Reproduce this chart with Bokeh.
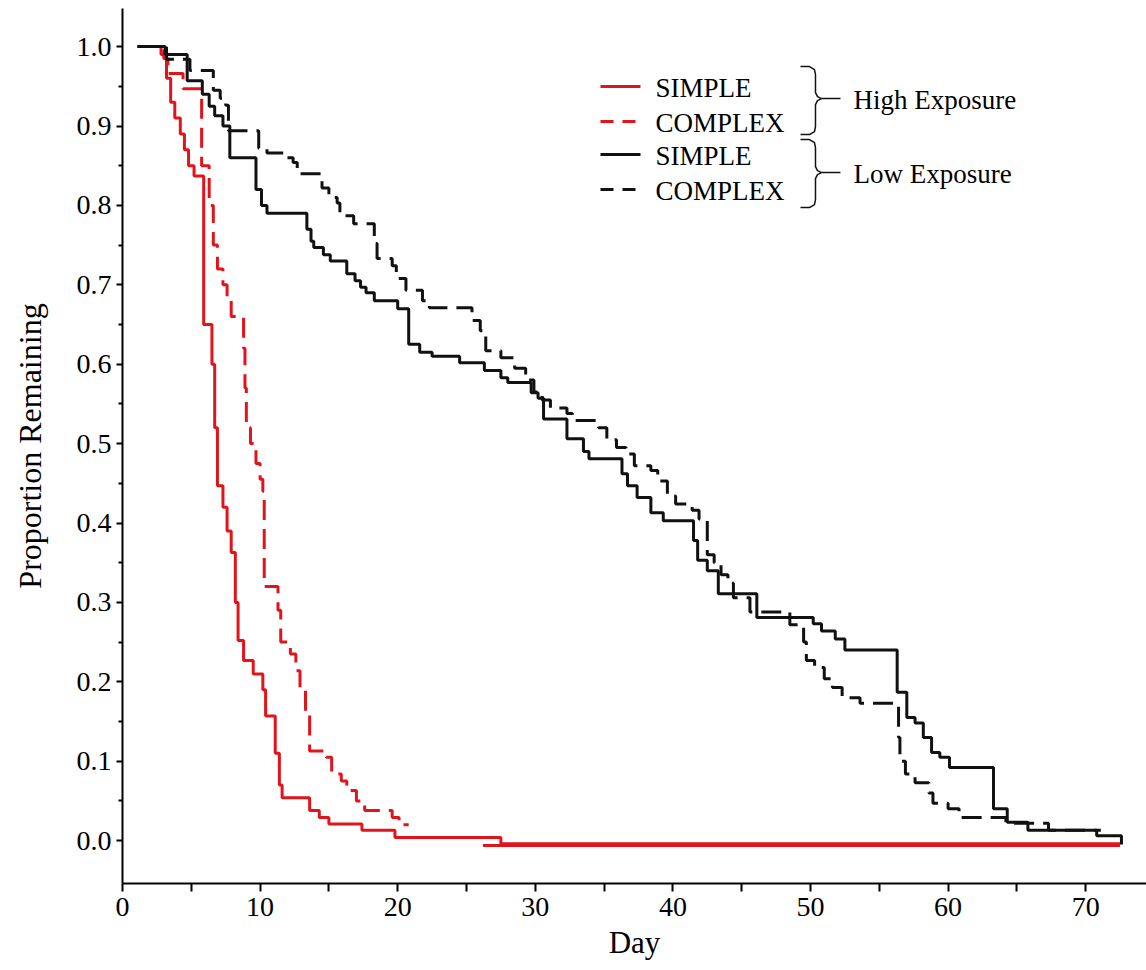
from bokeh.plotting import figure
from bokeh.models import Range1d, FixedTicker, NumeralTickFormatter
from bokeh.core.properties import value
from bokeh.embed import file_html
from bokeh.resources import INLINE

# ---------------- data ----------------
high_simple_day = [1.1, 2.8, 3.2, 3.5, 3.8, 4.2, 4.5, 4.8, 5.2, 5.9, 6.5, 6.7, 6.9, 7.3, 7.6,
                   7.9, 8.2, 8.4, 8.8, 9.5, 10.2, 10.4, 11.1, 11.4, 11.6, 13.6, 14.3, 15.0,
                   17.4, 19.8, 27.5, 72.5]
high_simple_val = [1.0, 0.99, 0.96, 0.93, 0.91, 0.89, 0.87, 0.85, 0.837, 0.65, 0.60, 0.52, 0.447,
                   0.42, 0.39, 0.363, 0.30, 0.252, 0.227, 0.21, 0.19, 0.157, 0.11, 0.07, 0.054,
                   0.038, 0.029, 0.021, 0.013, 0.004, -0.004, -0.004]

high_complex_day = [1.1, 3.0, 3.3, 4.4, 5.75, 6.3, 6.6, 6.9, 7.3, 7.6, 7.9, 8.8, 8.9, 9.0, 9.3,
                    9.7, 10.0, 10.2, 10.3, 11.3, 11.5, 12.2, 12.6, 12.9, 13.3, 13.6, 14.8, 15.2,
                    15.9, 16.3, 17.0, 17.6, 19.6, 20.1, 20.8]
high_complex_val = [1.0, 0.985, 0.966, 0.947, 0.85, 0.80, 0.75, 0.72, 0.70, 0.68, 0.66, 0.62,
                    0.57, 0.52, 0.50, 0.475, 0.455, 0.44, 0.32, 0.29, 0.25, 0.235, 0.214, 0.19,
                    0.16, 0.113, 0.105, 0.084, 0.075, 0.063, 0.05, 0.038, 0.029, 0.02, 0.02]
high_complex_tail_day = [26.2, 72.5]
high_complex_tail_val = [-0.006, -0.006]

low_simple_day = [1.1, 3.1, 4.7, 5.8, 6.3, 6.7, 7.3, 7.8, 9.7, 10.1, 10.5, 13.4, 13.7, 13.9,
                  14.6, 15.1, 16.3, 16.9, 17.3, 17.7, 18.3, 20.0, 20.8, 21.6, 22.5, 24.5, 26.3,
                  27.5, 28.0, 29.7, 30.2, 30.6, 32.3, 33.5, 33.9, 36.3, 36.7, 37.4, 38.4, 39.3,
                  41.5, 41.8, 42.5, 43.3, 46.1, 50.2, 50.8, 51.8, 52.5, 56.3, 57.0, 57.6, 58.2,
                  58.8, 59.4, 60.1, 63.3, 64.3, 65.8, 70.8, 72.6]
low_simple_val = [1.0, 0.99, 0.957, 0.94, 0.925, 0.913, 0.90, 0.86, 0.82, 0.80, 0.79, 0.77,
                  0.755, 0.747, 0.738, 0.73, 0.714, 0.705, 0.697, 0.69, 0.68, 0.67, 0.625, 0.615,
                  0.61, 0.602, 0.592, 0.583, 0.577, 0.564, 0.557, 0.531, 0.506, 0.49, 0.481,
                  0.462, 0.447, 0.432, 0.413, 0.403, 0.378, 0.353, 0.34, 0.311, 0.281, 0.273,
                  0.264, 0.254, 0.24, 0.187, 0.155, 0.148, 0.13, 0.111, 0.105, 0.092, 0.04,
                  0.023, 0.013, 0.006, -0.005]

low_complex_day = [1.1, 3.2, 4.9, 6.6, 7.1, 7.5, 7.7, 9.9, 10.5, 11.9, 12.4, 12.7, 14.5, 15.0,
                   15.6, 15.8, 16.8, 18.3, 18.5, 19.6, 19.9, 20.6, 21.8, 22.3, 25.4, 26.0, 26.4,
                   27.5, 28.5, 29.3, 29.9, 30.5, 31.1, 32.3, 32.7, 34.6, 35.2, 35.9, 36.6, 37.2,
                   38.4, 38.9, 39.6, 40.2, 41.4, 41.9, 42.5, 43.0, 43.5, 44.0, 44.4, 45.6, 48.5,
                   49.5, 49.7, 50.3, 51.0, 51.6, 52.3, 53.6, 56.4, 56.5, 56.9, 57.6, 58.6, 58.9,
                   60.0, 60.8, 64.2, 67.3, 71.1]
low_complex_val = [1.0, 0.984, 0.97, 0.945, 0.935, 0.926, 0.894, 0.872, 0.866, 0.86, 0.854,
                   0.84, 0.822, 0.81, 0.803, 0.787, 0.777, 0.752, 0.733, 0.724, 0.708, 0.693,
                   0.68, 0.671, 0.655, 0.642, 0.617, 0.608, 0.595, 0.58, 0.565, 0.555, 0.545,
                   0.538, 0.529, 0.52, 0.505, 0.495, 0.487, 0.472, 0.466, 0.453, 0.434, 0.424,
                   0.416, 0.405, 0.36, 0.35, 0.335, 0.324, 0.306, 0.288, 0.272, 0.25, 0.227,
                   0.218, 0.204, 0.193, 0.18, 0.173, 0.13, 0.10, 0.084, 0.073, 0.06, 0.047,
                   0.04, 0.029, 0.022, 0.013, 0.013]

x_ticks = [0, 10, 20, 30, 40, 50, 60, 70]
x_minor_ticks = [5, 15, 25, 35, 45, 55, 65]
y_ticks = [0.0, 0.1, 0.2, 0.3, 0.4, 0.5, 0.6, 0.7, 0.8, 0.9, 1.0]
y_minor_ticks = [0.05, 0.15, 0.25, 0.35, 0.45, 0.55, 0.65, 0.75, 0.85, 0.95]

legend_labels = ["SIMPLE", "COMPLEX", "SIMPLE", "COMPLEX"]
group_labels = ["High Exposure", "Low Exposure"]

RED = "#e0141b"
BLACK = "#111111"
FONT = "Liberation Serif"

# ---------------- figure ----------------
p = figure(width=1146, height=970, output_backend="svg", toolbar_location=None,
           x_range=Range1d(0, 74.42), y_range=Range1d(-0.054, 1.048),
           min_border_left=122, min_border_right=0, min_border_top=8, min_border_bottom=87)
p.outline_line_color = None
p.grid.visible = False

p.step(high_simple_day, high_simple_val, mode="after", line_color=RED, line_width=3)
p.step(high_complex_day, high_complex_val, mode="after", line_color=RED, line_width=3,
       line_dash="20 9")
p.line(high_complex_tail_day, high_complex_tail_val, line_color=RED, line_width=3)
p.step(low_simple_day, low_simple_val, mode="after", line_color=BLACK, line_width=3)
p.step(low_complex_day, low_complex_val, mode="after", line_color=BLACK, line_width=3,
       line_dash="20 9")

# axes
p.xaxis.ticker = FixedTicker(ticks=x_ticks, minor_ticks=x_minor_ticks)
p.yaxis.ticker = FixedTicker(ticks=y_ticks, minor_ticks=y_minor_ticks)
p.yaxis.formatter = NumeralTickFormatter(format="0.0")
p.xaxis.axis_label = "Day"
p.yaxis.axis_label = "Proportion Remaining"
for ax in (p.xaxis[0], p.yaxis[0]):
    ax.axis_line_width = 2
    ax.axis_line_color = "black"
    ax.major_tick_line_width = 2
    ax.minor_tick_line_width = 2
    ax.major_tick_in = 0
    ax.minor_tick_in = 0
    ax.major_tick_line_color = "black"
    ax.minor_tick_line_color = "black"
    ax.major_label_text_font = FONT
    ax.major_label_text_font_size = "28px"
    ax.major_label_text_color = "black"
    ax.axis_label_text_font = FONT
    ax.axis_label_text_font_style = "normal"
    ax.axis_label_text_color = "black"
p.xaxis.axis_label_text_font_size = "31px"
p.yaxis.axis_label_text_font_size = "32px"
p.xaxis.major_tick_out = 8
p.xaxis.minor_tick_out = 8
p.xaxis.major_label_standoff = 6
p.xaxis.axis_label_standoff = 6
p.yaxis.major_tick_out = 6
p.yaxis.minor_tick_out = 4
p.yaxis.major_label_standoff = 5
p.yaxis.axis_label_standoff = 26


# ---------------- legend (drawn by hand, positions in screen pixels) ----------------
def dx(px):
    return (px - 122) / 13.76


def dy(py):
    return (840 - py) / 794


row_py = [86, 121, 154, 189]
row_color = [RED, RED, BLACK, BLACK]
row_dash = ["solid", "13 9", "solid", "13 9"]
for py, col, dash, lab in zip(row_py, row_color, row_dash, legend_labels):
    p.line([dx(600), dx(640)], [dy(py), dy(py)], line_color=col, line_width=3, line_dash=dash)
    p.text([dx(655)], [dy(py + 1)], text=[lab], text_font=value(FONT), text_font_size="27px",
           text_baseline="middle", text_align="left", text_color="black")


def brace(top, mid, bot):
    xs = [800, 809, 814, 815, 815, 817, 821, 817, 815, 815, 814, 809, 800]
    ys = [top, top, top + 3, top + 8, mid - 6, mid - 2, mid, mid + 2, mid + 6, bot - 8,
          bot - 3, bot, bot]
    p.line([dx(v) for v in xs], [dy(v) for v in ys], line_color=BLACK, line_width=1.5)
    p.line([dx(821), dx(840)], [dy(mid), dy(mid)], line_color=BLACK, line_width=1.5)


brace(66, 98, 134)
brace(139, 172, 207)
for py, lab in zip([99, 173], group_labels):
    p.text([dx(853)], [dy(py)], text=[lab], text_font=value(FONT), text_font_size="27px",
           text_baseline="middle", text_align="left", text_color="black")

open("out.html", "w").write(file_html(p, INLINE))
